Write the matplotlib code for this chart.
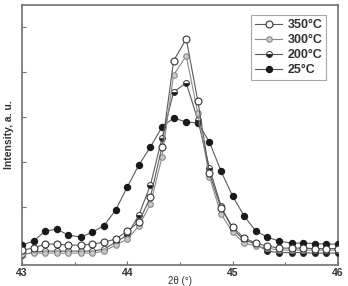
import matplotlib.pyplot as plt
import numpy as np

two_theta = [43.00, 43.11, 43.22, 43.33, 43.44, 43.56, 43.67, 43.78, 43.89, 44.00,
             44.11, 44.22, 44.33, 44.44, 44.56, 44.67, 44.78, 44.89, 45.00, 45.11,
             45.22, 45.33, 45.44, 45.56, 45.67, 45.78, 45.89, 46.00]

i_350 = [15, 17, 21, 21, 20, 20, 21, 23, 26, 34, 43, 68, 118, 204, 226, 164, 92, 57,
         38, 27, 22, 19, 17, 17, 17, 16.5, 16.5, 16.5]
i_300 = [11, 12, 12, 12, 12, 12, 12, 14, 20, 26, 39, 61, 108, 190, 209, 152, 88, 51,
         33, 22, 19, 17, 15, 15, 15, 15, 15, 15]
i_200 = [10, 13, 14, 14, 14, 14, 14, 16, 23, 30, 50, 80, 127, 173, 182, 145, 97, 59,
         36, 25, 21, 14, 12.5, 12.5, 12.5, 12, 12, 12]
i_25 = [20, 24, 34, 36, 30, 28, 33, 39.5, 55, 78, 100, 118, 138, 147, 143, 142, 123, 94,
        69, 49, 34, 28, 24, 22, 22, 21.5, 21, 21]

labels = ["350°C", "300°C", "200°C", "25°C"]
xticks = [43, 44, 45, 46]
xticklabels = ["43", "44", "45", "46"]

plt.rcParams['font.family'] = ['Liberation Sans', 'DejaVu Sans']

fig = plt.figure(figsize=(3.48, 2.86), dpi=100)
ax = fig.add_axes([0.063, 0.073, 0.908, 0.91])

line_c = "#5a5a5a"
ax.plot(two_theta, i_25, color=line_c, lw=0.8, marker="o", ms=4.3,
        mfc="#1a1a1a", mec="#1a1a1a", label=labels[3], zorder=3)
ax.plot(two_theta, i_200, color=line_c, lw=0.8, marker="o", ms=4.3, fillstyle="bottom",
        mfc="#1a1a1a", mfcalt="white", mec="#3a3a3a", mew=0.7, label=labels[2], zorder=3)
ax.plot(two_theta, i_300, color="#8a8a8a", lw=0.8, marker="o", ms=4.0,
        mfc="#c8c8c8", mec="#8a8a8a", mew=0.8, label=labels[1], zorder=3)
ax.plot(two_theta, i_350, color=line_c, lw=0.8, marker="o", ms=5.0,
        mfc="white", mec="#333333", mew=0.8, label=labels[0], zorder=4)

ax.set_xlim(43, 46)
ax.set_ylim(0, 260)
ax.set_xticks(xticks)
ax.set_xticklabels(xticklabels, fontweight="bold", fontsize=7.5, color="#333333")
ax.set_xticks([43.5, 44.5, 45.5], minor=True)
ax.set_yticks(np.arange(13, 260, 45))
ax.set_yticklabels([])
ax.tick_params(axis="both", which="both", direction="in", color="#707070", pad=2)
ax.tick_params(axis="both", which="major", length=3, width=0.8)
ax.tick_params(axis="x", which="minor", length=2, width=0.8)
for s in ax.spines.values():
    s.set_color("#707070")
    s.set_linewidth(1.2)

ax.set_xlabel("2θ (°)", fontsize=7, color="#333333", va="center")
ax.xaxis.set_label_coords(0.5, -0.062)
ax.set_ylabel("Intensity, a. u.", fontsize=7.5, fontweight="bold", color="#333333", labelpad=4)

h, l = ax.get_legend_handles_labels()
leg = ax.legend(h[::-1], l[::-1], loc="upper right", bbox_to_anchor=(0.97, 0.97),
                prop={"weight": "bold", "size": 9}, frameon=True, fancybox=False,
                edgecolor="#909090", handlelength=2.2, handletextpad=0.4, labelspacing=0.25,
                borderpad=0.3, borderaxespad=0.2)
leg.get_frame().set_linewidth(0.8)
for t in leg.get_texts():
    t.set_color("#333333")

fig.savefig("out.png", dpi=100)
